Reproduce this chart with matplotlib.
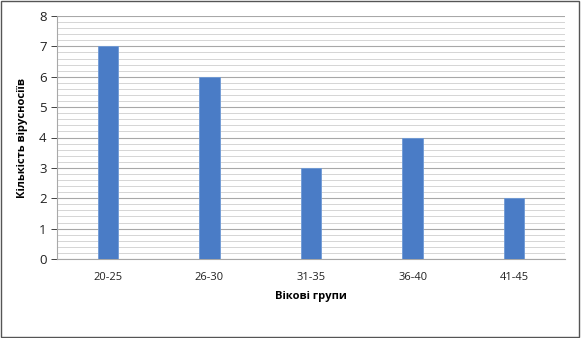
import matplotlib.pyplot as plt
import numpy as np
from matplotlib.patches import Rectangle

plt.rcParams['font.family'] = ['Open Sans', 'DejaVu Sans']

# data
groups = ['20-25', '26-30', '31-35', '36-40', '41-45']
counts = [7, 6, 3, 4, 2]

fig = plt.figure(figsize=(5.81, 3.38), dpi=100)
ax = fig.add_axes([57/581, 1 - 259/338, 508/581, 243/338])

x = np.arange(len(groups))
ax.bar(x, counts, width=0.2, color='#4a7cc6', edgecolor='#6f9ad6', linewidth=0.6, zorder=3)

ax.set_xlim(-0.5, len(groups) - 0.5)
ax.set_ylim(0, 8)
ax.set_yticks(range(0, 9))
ax.set_yticks(np.arange(0, 8.01, 0.2), minor=True)
ax.set_xticks(x)
ax.set_xticklabels(groups, fontsize=8, color='#222222')
ax.tick_params(axis='y', labelsize=9.5, colors='#222222', length=4, width=0.6)
ax.tick_params(axis='y', which='minor', length=0)
ax.tick_params(axis='x', length=0, pad=9)
ax.grid(axis='y', which='major', color='#a8a8a8', linewidth=0.8, zorder=0)
ax.grid(axis='y', which='minor', color='#cfcfcf', linewidth=0.6, zorder=0)

for s in ['top', 'right']:
    ax.spines[s].set_visible(False)
ax.spines['left'].set_color('#a8a8a8')
ax.spines['bottom'].set_color('#a8a8a8')

ax.set_xlabel('Вікові групи', fontsize=8, fontweight='bold', labelpad=6)
ax.set_ylabel('Кількість вірусносіїв', fontsize=8, fontweight='bold', labelpad=8)

# outer frame
fig.patches.append(Rectangle((0.002, 0.004), 0.994, 0.993, transform=fig.transFigure,
                             fill=False, edgecolor='#555555', linewidth=1.0))

plt.savefig('out.png', dpi=100)
